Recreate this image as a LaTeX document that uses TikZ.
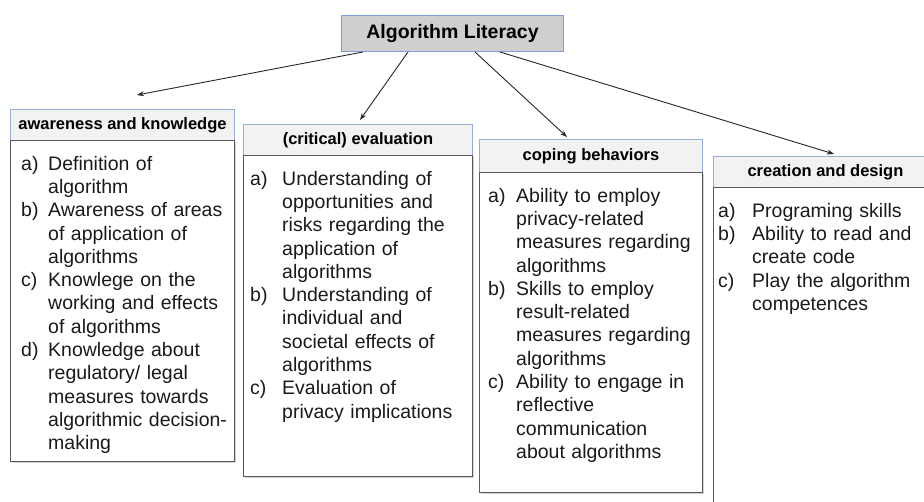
\documentclass[tikz,border=0pt]{standalone}
\usepackage{fontspec}
\setmainfont{Liberation Sans}
\usetikzlibrary{arrows.meta,shadows}
\definecolor{hdrfill}{HTML}{F2F2F2}
\definecolor{hdrline}{HTML}{95ADD8}
\definecolor{titlefill}{HTML}{D0CECE}
\definecolor{titleline}{HTML}{7F9FD8}
\definecolor{boxline}{HTML}{595959}
\definecolor{arrowc}{HTML}{262626}
\definecolor{txt}{HTML}{1A1A1A}
\newlength\lblw
\newcommand\li[2]{\par\noindent\hangindent=\lblw\hangafter=1\strut\makebox[\lblw][l]{#1}#2\par}
\begin{document}
\begin{tikzpicture}[x=1pt,y=-1pt,
  titlebox/.style={draw=titleline, fill=titlefill, line width=1pt, anchor=north west, inner sep=0pt,
    minimum width=222pt, minimum height=36pt, font=\fontsize{19.5}{22}\selectfont\bfseries, text=black},
  hdr/.style={draw=hdrline, fill=hdrfill, line width=0.9pt, anchor=north west, inner sep=0pt,
    font=\fontsize{16.5}{19}\selectfont\bfseries, text=black},
  frame/.style={draw=boxline, fill=white, line width=0.9pt, anchor=north west, inner sep=0pt,
    drop shadow={shadow xshift=1.2pt, shadow yshift=-1.6pt, opacity=0.35, fill=gray}},
  body/.style={anchor=north west, inner sep=0pt, align=left, text=txt,
    font=\fontsize{19.5}{23.3}\selectfont},
  arr/.style={draw=arrowc, line width=0.9pt, -{Stealth[length=7pt,width=5pt]}}
]
\useasboundingbox (0,0) rectangle (924,502);
\clip (0,0) rectangle (924,502);

% title
\node[titlebox] (title) at (341,15) {Algorithm Literacy};

% box 1
\node[hdr, minimum width=224pt, minimum height=31pt] (h1) at (10,109) {awareness and knowledge};
\node[frame, minimum width=224pt, minimum height=321pt] (f1) at (10,140) {};
\node[body, text width=210pt] (t1) at (21,146.7) {\setlength\lblw{27pt}%
\li{a)}{Definition of\newline algorithm}%
\li{b)}{Awareness of areas\newline of application of\newline algorithms}%
\li{c)}{Knowlege on the\newline working and effects\newline of algorithms}%
\li{d)}{Knowledge about\newline regulatory/ legal\newline measures towards\newline algorithmic decision-\newline making}};

% box 2
\node[hdr, minimum width=229pt, minimum height=31pt] (h2) at (243,124) {(critical) evaluation};
\node[frame, minimum width=229pt, minimum height=321pt] (f2) at (243,155) {};
\node[body, text width=215pt] (t2) at (250,161.7) {\setlength\lblw{32pt}%
\li{a)}{Understanding of\newline opportunities and\newline risks regarding the\newline application of\newline algorithms}%
\li{b)}{Understanding of\newline individual and\newline societal effects of\newline algorithms}%
\li{c)}{Evaluation of\newline privacy implications}};

% box 3
\node[hdr, minimum width=223pt, minimum height=33pt] (h3) at (479,139) {coping behaviors};
\node[frame, minimum width=223pt, minimum height=320pt] (f3) at (479,172) {};
\node[body, text width=210pt] (t3) at (488,178.7) {\setlength\lblw{28pt}%
\li{a)}{Ability to employ\newline privacy-related\newline measures regarding\newline algorithms}%
\li{b)}{Skills to employ\newline result-related\newline measures regarding\newline algorithms}%
\li{c)}{Ability to engage in\newline reflective\newline communication\newline about algorithms}};

% box 4
\node[hdr, minimum width=224pt, minimum height=31pt] (h4) at (713,156) {creation and design};
\node[frame, minimum width=224pt, minimum height=340pt] (f4) at (713,187) {};
\node[body, text width=205pt] (t4) at (718,193.7) {\setlength\lblw{34pt}%
\li{a)}{Programing skills}%
\li{b)}{Ability to read and\newline create code}%
\li{c)}{Play the algorithm\newline competences}};

% arrow ends
\coordinate (e1) at (137,95);
\coordinate (e2) at (360,120);
\coordinate (e3) at (567,137);
\coordinate (e4) at (834,154);

\draw[arr] ([xshift=22pt]title.south west) -- (e1);
\draw[arr] ([xshift=67pt]title.south west) -- (e2);
\draw[arr] ([xshift=134pt]title.south west) -- (e3);
\draw[arr] ([xshift=159pt]title.south west) -- (e4);
\end{tikzpicture}
\end{document}
